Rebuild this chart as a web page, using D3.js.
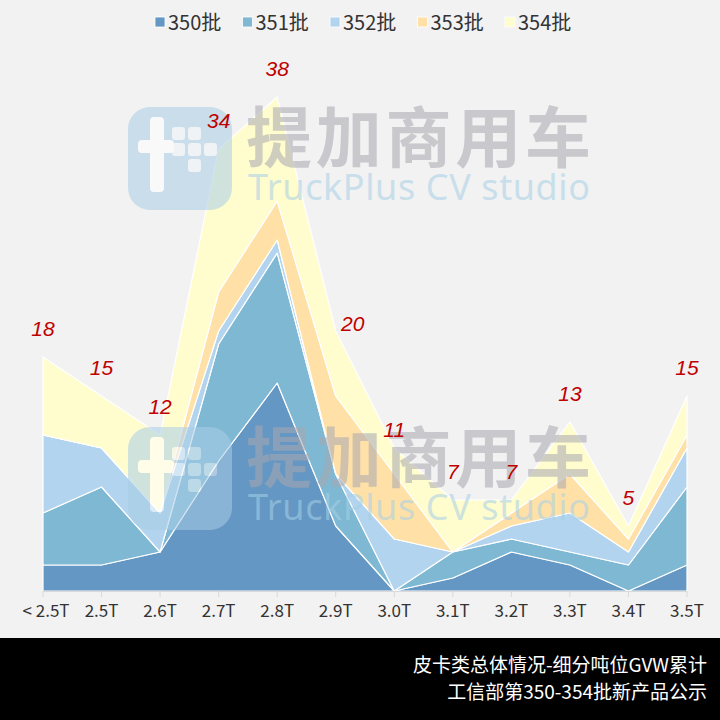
<!DOCTYPE html>
<html><head><meta charset="utf-8">
<script src="https://cdn.jsdelivr.net/npm/d3@7"></script>
<style>html,body{margin:0;padding:0;background:#f2f2f2;}svg{display:block;}</style>
</head><body>
<svg id="c" width="720" height="720"></svg>
<script>
const categories = ["< 2.5T","2.5T","2.6T","2.7T","2.8T","2.9T","3.0T","3.1T","3.2T","3.3T","3.4T","3.5T"];
const seriesNames = ["350批","351批","352批","353批","354批"];
const s350 = [2,2,3,10,16,5,0,1,3,2,0,2];
const s351 = [4,6,0,9,10,4,0,2,1,1,2,6];
const s352 = [6,3,3,1,1,0,4,0,1,3,1,3];
const s353 = [0,0,0,3,3,6,5,0,1,3,1,1];
const s354 = [6,4,6,11,8,5,2,4,1,4,1,3];
const totals = [18,15,12,34,38,20,11,7,7,13,5,15];
const colors = ["#6497c3","#7fb8d3","#b3d4ee","#ffe1a8","#fffcce"];
const titleLines = ["皮卡类总体情况-细分吨位GVW累计","工信部第350-354批新产品公示"];

const svg = d3.select("#c");
svg.append("rect").attr("width",720).attr("height",720).attr("fill","#f2f2f2");

const x = d3.scalePoint().domain(categories).range([43,687]);
const y = d3.scaleLinear().domain([0,40]).range([591,71]);

const rows = categories.map((c,i)=>({cat:c,"350批":s350[i],"351批":s351[i],"352批":s352[i],"353批":s353[i],"354批":s354[i]}));
const stack = d3.stack().keys(seriesNames)(rows);
const area = d3.area().x(d=>x(d.data.cat)).y0(d=>y(d[0])).y1(d=>y(d[1]));

svg.append("g").selectAll("path").data(stack).join("path")
  .attr("d",area).attr("fill",(d,i)=>colors[i])
  .attr("stroke","#ffffff").attr("stroke-width",1.2).attr("stroke-linejoin","round");

// axis
const axisG = svg.append("g").attr("transform","translate(0,591)");
axisG.append("line").attr("x1",43).attr("x2",687).attr("y1",0.5).attr("y2",0.5).attr("stroke","#d9d9d9");
axisG.selectAll("line.t").data(categories).join("line").attr("class","t")
  .attr("x1",d=>x(d)).attr("x2",d=>x(d)).attr("y1",0).attr("y2",6).attr("stroke","#d9d9d9");
axisG.selectAll("text").data(categories).join("text")
  .attr("x",d=>x(d)+ (d==="< 2.5T"?3:0)).attr("y",26).attr("text-anchor","middle")
  .attr("font-family","'Liberation Sans Narrow','Noto Sans CJK SC',sans-serif").attr("font-size",17)
  .attr("fill","#333").text(d=>d);

// watermarks
function watermark(oy){
  const g = svg.append("g").attr("opacity",0.55);
  g.append("rect").attr("x",128).attr("y",107+oy).attr("width",104).attr("height",103).attr("rx",22).attr("fill","#a9cde6");
  g.append("rect").attr("x",150).attr("y",117+oy).attr("width",14).attr("height",75).attr("rx",4).attr("fill","#fff");
  g.append("rect").attr("x",138).attr("y",140+oy).attr("width",36).attr("height",13).attr("rx",4).attr("fill","#fff");
  [[0,0],[1,0],[0,1],[1,1],[2,1],[1,2]].forEach(([i,j])=>{
    g.append("rect").attr("x",172+i*16).attr("y",127+j*16+oy).attr("width",13).attr("height",13).attr("rx",3).attr("fill","#fff").attr("opacity",0.8);
  });
  g.append("text").attr("x",246).attr("y",162+oy).attr("font-family","'Noto Sans CJK SC',sans-serif").attr("font-weight","bold")
    .attr("font-size",66).attr("fill","#a8a8b0").attr("textLength",345).text("提加商用车");
  g.append("text").attr("x",248).attr("y",200+oy).attr("font-family","'Noto Sans','Open Sans',sans-serif")
    .attr("font-size",36).attr("fill","#a6d0e6").attr("textLength",342).text("TruckPlus CV studio");
}
watermark(0);
watermark(320);

// data labels
const nudge = {5:[17,21],6:[0,10]};
svg.append("g").selectAll("text").data(totals).join("text")
  .attr("x",(d,i)=>x(categories[i]) + (nudge[i]?nudge[i][0]:0))
  .attr("y",(d,i)=>y(d) - 21 + (nudge[i]?nudge[i][1]:0))
  .attr("text-anchor","middle").attr("font-family","'Liberation Sans',Arial,sans-serif")
  .attr("font-style","italic").attr("font-size",21).attr("fill","#c00000").text(d=>d);

// legend
const lg = svg.append("g");
seriesNames.forEach((n,i)=>{
  const lx = 155 + i*87.5;
  lg.append("rect").attr("x",lx).attr("y",17).attr("width",10).attr("height",10).attr("fill",colors[i]).attr("stroke","#fff").attr("stroke-width",0.8);
  lg.append("text").attr("x",lx+13).attr("y",30).attr("font-family","'Liberation Sans Narrow','Noto Sans CJK SC',sans-serif")
    .attr("font-size",20).attr("fill","#333").text(n);
});

// footer
svg.append("rect").attr("x",0).attr("y",638).attr("width",720).attr("height",82).attr("fill","#000");
svg.append("g").selectAll("text").data(titleLines).join("text")
  .attr("x",707).attr("y",(d,i)=>672+i*27).attr("text-anchor","end")
  .attr("font-family","'Noto Sans CJK SC',sans-serif").attr("font-size",19).attr("fill","#fff").text(d=>d);
</script>
</body></html>
